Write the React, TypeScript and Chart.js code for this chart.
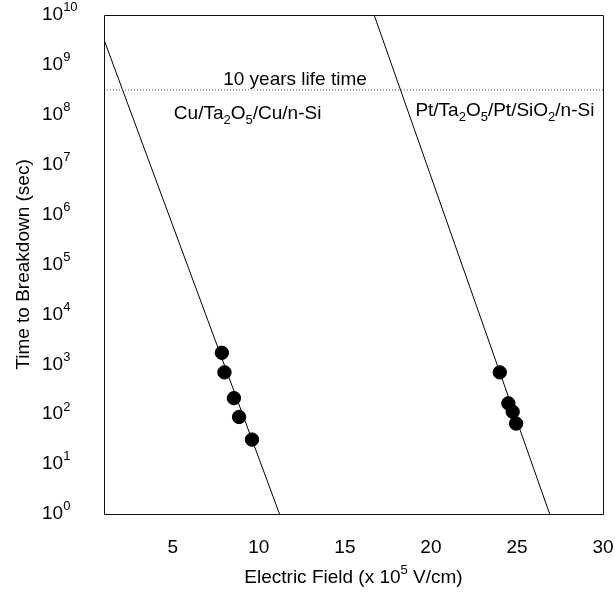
import React, { useEffect, useRef } from "react";
import { Chart, registerables } from "chart.js";

Chart.register(...registerables);

// ---- data ----
const X_TICKS = [5, 10, 15, 20, 25, 30];
const Y_EXPONENTS = [0, 1, 2, 3, 4, 5, 6, 7, 8, 9, 10];

const CU_X = [7.85, 8.0, 8.55, 8.85, 9.6];
const CU_Y = [1700, 690, 210, 88, 31];
const PT_X = [24.0, 24.5, 24.75, 24.95];
const PT_Y = [690, 165, 112, 65];

const CU_FIT_X = [1, 11.2];
const CU_FIT_Y = [3.2e9, 1];
const PT_FIT_X = [16.7, 26.9];
const PT_FIT_Y = [1e10, 1];

const TEN_YEARS_SEC = 3.15e8;
const LIFE_X = [1, 30];

const FONT = "'Liberation Sans', Arial, Helvetica, sans-serif";
const FS = 19;

type Part = { t: string; sub?: boolean; sup?: boolean };

function drawRich(
  ctx: CanvasRenderingContext2D,
  parts: Part[],
  x: number,
  y: number,
  size: number,
  align: "left" | "center" | "right"
) {
  const small = Math.round(size * 0.68);
  const widths = parts.map((p) => {
    ctx.font = `${p.sub || p.sup ? small : size}px ${FONT}`;
    return ctx.measureText(p.t).width;
  });
  const total = widths.reduce((a, b) => a + b, 0);
  let cx = align === "center" ? x - total / 2 : align === "right" ? x - total : x;
  ctx.textBaseline = "middle";
  ctx.textAlign = "left";
  parts.forEach((p, i) => {
    ctx.font = `${p.sub || p.sup ? small : size}px ${FONT}`;
    let dy = 0;
    if (p.sub) dy = size * 0.32;
    if (p.sup) dy = -size * 0.38;
    ctx.fillText(p.t, cx, y + dy);
    cx += widths[i];
  });
  return total;
}

const overlay = {
  id: "overlay",
  afterDraw(chart: any) {
    const ctx: CanvasRenderingContext2D = chart.ctx;
    const { left, right, top, bottom } = chart.chartArea;
    const xs = chart.scales.x;
    const ys = chart.scales.y;
    ctx.save();
    // frame
    ctx.strokeStyle = "#111";
    ctx.lineWidth = 1;
    ctx.beginPath();
    ctx.rect(Math.round(left) + 0.5, Math.round(top) + 0.5, Math.round(right - left), Math.round(bottom - top));
    ctx.stroke();

    ctx.fillStyle = "#000";
    // y tick labels
    Y_EXPONENTS.forEach((e) => {
      const py = ys.getPixelForValue(Math.pow(10, e));
      drawRich(ctx, [{ t: "10" }, { t: String(e), sup: true }], 42, py, FS, "left");
    });
    // x tick labels
    ctx.font = `${FS}px ${FONT}`;
    ctx.textAlign = "center";
    ctx.textBaseline = "middle";
    X_TICKS.forEach((v) => {
      ctx.fillText(String(v), xs.getPixelForValue(v), bottom + 34);
    });
    // x title
    drawRich(
      ctx,
      [{ t: "Electric Field (x 10" }, { t: "5", sup: true }, { t: " V/cm)" }],
      (left + right) / 2,
      bottom + 64,
      FS,
      "center"
    );
    // y title
    ctx.save();
    ctx.translate(24, (top + bottom) / 2);
    ctx.rotate(-Math.PI / 2);
    ctx.font = `${FS}px ${FONT}`;
    ctx.textAlign = "center";
    ctx.textBaseline = "middle";
    ctx.fillText("Time to Breakdown (sec)", 0, 0);
    ctx.restore();

    // annotations
    const lifeY = ys.getPixelForValue(TEN_YEARS_SEC);
    drawRich(ctx, [{ t: "10 years life time" }], xs.getPixelForValue(12.1), lifeY - 10, FS, "center");
    drawRich(
      ctx,
      [{ t: "Cu/Ta" }, { t: "2", sub: true }, { t: "O" }, { t: "5", sub: true }, { t: "/Cu/n-Si" }],
      xs.getPixelForValue(5.06),
      lifeY + 24,
      FS,
      "left"
    );
    drawRich(
      ctx,
      [
        { t: "Pt/Ta" },
        { t: "2", sub: true },
        { t: "O" },
        { t: "5", sub: true },
        { t: "/Pt/SiO" },
        { t: "2", sub: true },
        { t: "/n-Si" },
      ],
      xs.getPixelForValue(29.5),
      lifeY + 21,
      FS,
      "right"
    );
    ctx.restore();
  },
};

export default function App() {
  const ref = useRef<HTMLCanvasElement | null>(null);
  useEffect(() => {
    document.body.style.margin = "0";
    const canvas = ref.current!;
    const pts = (xa: number[], ya: number[]) => xa.map((x, i) => ({ x, y: ya[i] }));
    const chart = new Chart(canvas, {
      type: "scatter",
      data: {
        datasets: [
          {
            label: "10 years",
            data: pts(LIFE_X, [TEN_YEARS_SEC, TEN_YEARS_SEC]),
            showLine: true,
            borderColor: "#555",
            borderWidth: 1,
            borderDash: [1, 2],
            pointRadius: 0,
          },
          {
            label: "Cu fit",
            data: pts(CU_FIT_X, CU_FIT_Y),
            showLine: true,
            borderColor: "#000",
            borderWidth: 1,
            pointRadius: 0,
          },
          {
            label: "Pt fit",
            data: pts(PT_FIT_X, PT_FIT_Y),
            showLine: true,
            borderColor: "#000",
            borderWidth: 1,
            pointRadius: 0,
          },
          {
            label: "Cu/Ta2O5/Cu/n-Si",
            data: pts(CU_X, CU_Y),
            pointRadius: 6.7,
            backgroundColor: "#000",
            borderColor: "#000",
            showLine: false,
          },
          {
            label: "Pt/Ta2O5/Pt/SiO2/n-Si",
            data: pts(PT_X, PT_Y),
            pointRadius: 6.7,
            backgroundColor: "#000",
            borderColor: "#000",
            showLine: false,
          },
        ],
      },
      options: {
        responsive: false,
        animation: false,
        layout: { padding: { left: 96, right: 12, top: 15, bottom: 80 } },
        plugins: { legend: { display: false }, tooltip: { enabled: false } },
        scales: {
          x: {
            type: "linear",
            min: 1,
            max: 30,
            grid: { display: false },
            border: { display: false },
            ticks: { display: false },
            afterBuildTicks: (s: any) => {
              s.ticks = X_TICKS.map((v) => ({ value: v }));
            },
          },
          y: {
            type: "logarithmic",
            min: 1,
            max: 1e10,
            grid: { display: false },
            border: { display: false },
            ticks: { display: false },
            afterBuildTicks: (s: any) => {
              s.ticks = Y_EXPONENTS.map((e) => ({ value: Math.pow(10, e) }));
            },
          },
        },
      },
      plugins: [overlay],
    });
    return () => chart.destroy();
  }, []);
  return (
    <div style={{ width: 615, height: 602 }}>
      <canvas ref={ref} width={615} height={602} />
    </div>
  );
}
